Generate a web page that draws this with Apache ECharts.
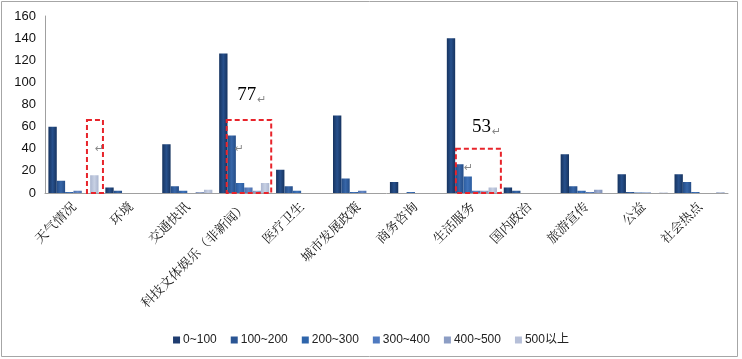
<!DOCTYPE html>
<html>
<head>
<meta charset="utf-8">
<script src="https://cdn.jsdelivr.net/npm/echarts@6/dist/echarts.min.js"></script>
<style>
html,body{margin:0;padding:0;background:#fff;}
#chart{width:742px;height:359px;}
</style>
</head>
<body>
<div id="chart"></div>
<script>
const categories = ['天气情况','环境','交通快讯','科技文体娱乐（非新闻）','医疗卫生','城市发展政策','商务咨询','生活服务','国内政治','旅游宣传','公益','社会热点'];
const seriesNames = ['0~100','100~200','200~300','300~400','400~500','500以上'];
const s0_100   = [60, 5, 44, 126, 21, 70, 10, 140, 5, 35, 17, 17];
const s100_200 = [11, 2, 6, 52, 6, 13, 0, 26, 2, 6, 1, 10];
const s200_300 = [1, 0, 2, 9, 2, 1, 1, 15, 0, 2, 0.5, 1];
const s300_400 = [2, 0, 0, 5, 0, 2, 0, 2, 0, 1, 0.5, 0];
const s400_500 = [0, 0, 1, 2, 0, 0, 0, 2, 0, 3, 0, 0];
const s500_up  = [16, 0, 3, 9, 0, 0, 0, 5, 0, 0, 0.5, 1];
const yTicks = [0, 20, 40, 60, 80, 100, 120, 140, 160];

const allData = [s0_100, s100_200, s200_300, s300_400, s400_500, s500_up];
const colors = [
  ['#16335F', '#27508C'],
  ['#244C86', '#3766A8'],
  ['#2A5C9F', '#4073BA'],
  ['#4A6FAE', '#6688C4'],
  ['#7F90B8', '#9DADD0'],
  ['#AAB5CF', '#C8D1E4']
];
const legendColors = ['#1F3D70', '#2A5594', '#2E65AB', '#4F7AC0', '#8C9DC4', '#B6BFD8'];

const chart = echarts.init(document.getElementById('chart'), null, {renderer: 'canvas'});
const series = allData.map((d, i) => ({
  name: seriesNames[i],
  type: 'bar',
  data: d,
  barGap: '0%',
  barCategoryGap: '12%',
  itemStyle: {
    color: new echarts.graphic.LinearGradient(0, 0, 1, 0, [
      {offset: 0, color: colors[i][0]},
      {offset: 0.5, color: colors[i][1]},
      {offset: 1, color: colors[i][0]}
    ])
  }
}));

chart.setOption({
  animation: false,
  backgroundColor: '#fff',
  grid: {left: 45, right: 14, top: 16, bottom: 166, containLabel: false},
  legend: {
    bottom: 8,
    left: 'center',
    itemWidth: 7,
    itemHeight: 7,
    itemGap: 14,
    icon: 'rect',
    textStyle: {fontFamily: 'Liberation Sans, Noto Sans CJK SC', fontSize: 12, color: '#222', padding: [0,0,0,-2]},
    data: seriesNames.map((n, i) => ({name: n, itemStyle: {color: legendColors[i]}}))
  },
  xAxis: {
    type: 'category',
    data: categories,
    axisLine: {lineStyle: {color: '#A0A0A0'}},
    axisTick: {show: false},
    axisLabel: {
      rotate: 45,
      interval: 0,
      margin: 11,
      fontSize: 13,
      color: '#111',
      fontFamily: 'Noto Serif CJK SC, Noto Sans CJK SC'
    }
  },
  yAxis: {
    type: 'value',
    min: 0,
    max: 160,
    interval: 20,
    axisLine: {show: true, lineStyle: {color: '#A0A0A0'}},
    axisTick: {show: false},
    splitLine: {show: false},
    axisLabel: {
      fontSize: 13,
      color: '#111',
      margin: 9,
      fontFamily: 'Liberation Sans, Arial'
    }
  },
  series: series
});

// Annotations (overlay boxes and labels) positioned through the axes
function px(cat, val) { return chart.convertToPixel({gridIndex: 0}, [cat, val]); }
const boxes = [
  {cat: categories[0], top: 66, l: 13.5, r: 29.5},
  {cat: categories[3], top: 66, l: -17.5, r: 27},
  {cat: categories[7], top: 40, l: -16, r: 29}
];
const graphics = [];
boxes.forEach(b => {
  const p0 = px(b.cat, b.top);
  const p1 = px(b.cat, 0);
  graphics.push({
    type: 'rect',
    shape: {x: p0[0] + b.l, y: p0[1], width: b.r - b.l, height: p1[1] - p0[1]},
    style: {fill: 'none', stroke: '#E8242B', lineWidth: 2, lineDash: [5, 3]},
    z: 100
  });
  graphics.push({
    type: 'text',
    x: p0[0] + b.l + 8, y: px(b.cat, b.top * 0.68)[1],
    style: {text: '↵', fill: '#888', fontSize: 11, fontFamily: 'DejaVu Sans'},
    z: 100
  });
});
const notes = [
  {cat: categories[3], val: 88, text: '77', dx: -7},
  {cat: categories[7], val: 59, text: '53', dx: 0}
];
notes.forEach(n => {
  const p = px(n.cat, n.val);
  graphics.push({
    type: 'text',
    x: p[0] + n.dx, y: p[1] - 10,
    style: {text: n.text, fill: '#000', fontSize: 19, fontFamily: 'Liberation Serif, DejaVu Serif'},
    z: 100
  });
  graphics.push({
    type: 'text',
    x: p[0] + n.dx + 20, y: p[1] - 1,
    style: {text: '↵', fill: '#888', fontSize: 11, fontFamily: 'DejaVu Sans'},
    z: 100
  });
});
graphics.push({
  type: 'rect',
  shape: {x: 1.5, y: 1.5, width: 736, height: 355},
  style: {fill: 'none', stroke: '#A6A6A6', lineWidth: 1},
  z: 100
});
chart.setOption({graphic: graphics});
</script>
</body>
</html>
